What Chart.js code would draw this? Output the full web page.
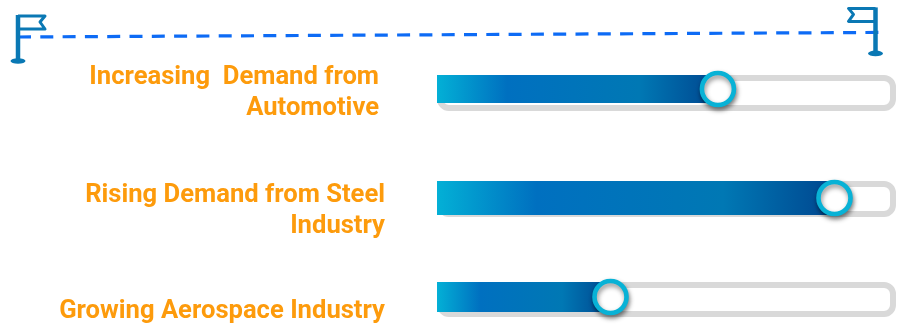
<!DOCTYPE html>
<html>
<head>
<meta charset="utf-8">
<title>Market drivers</title>
<script src="https://cdn.jsdelivr.net/npm/chart.js@4"></script>
<style>
  html, body { margin: 0; padding: 0; background: #fff; }
  #page { position: relative; width: 897px; height: 324px; overflow: hidden; }
  canvas { position: absolute; left: 0; top: 0; }
</style>
</head>
<body>
<div id="page">
  <canvas id="timeline" width="897" height="324"></canvas>
  <canvas id="row0" width="897" height="324"></canvas>
  <canvas id="row1" width="897" height="324"></canvas>
  <canvas id="row2" width="897" height="324"></canvas>
</div>
<script>
const categories = [
  ["Increasing  Demand from", "Automotive"],
  ["Rising Demand from Steel", "Industry"],
  "Growing Aerospace Industry",
];
const driverValues = [61.2, 86.6, 37.8];
const timelineLabels = ["start", "end"];
const timelineLevels = [28.7, 29.16];

// where each row sits on the page
const rowLayouts = [
  { top: 75, bottom: 103, trackDrop: 8, labelPad: 58, labelShift: 4 },
  { top: 181, bottom: 215, trackDrop: 2, labelPad: 52, labelShift: 13 },
  { top: 282, bottom: 312, trackDrop: 5, labelPad: 52, labelShift: 15 },
];

const ORANGE = "#fd9b0c";
const FLAG_BLUE = "#0a78b4";
const DASH_BLUE = "#0d6bf5";
const KNOB_CYAN = "#08b2d6";
const TRACK_GREY = "#d9d9d9";

const trackPlugin = {
  id: "track",
  beforeDatasetsDraw(chart, args, opts) {
    const { ctx, chartArea: a } = chart;
    const w = 6;
    ctx.save();
    ctx.beginPath();
    ctx.roundRect(a.left + w / 2, a.top + w / 2, a.right - a.left - w, a.bottom - a.top + opts.drop - w, 9);
    ctx.fillStyle = "#fff";
    ctx.fill();
    ctx.strokeStyle = TRACK_GREY;
    ctx.lineWidth = w;
    ctx.stroke();
    ctx.restore();
  },
};

const shadowPlugin = {
  id: "softShadow",
  beforeDatasetDraw(chart) {
    const { ctx } = chart;
    ctx.save();
    ctx.shadowColor = "rgba(0,0,0,0.45)";
    ctx.shadowBlur = 5;
    ctx.shadowOffsetX = 1;
    ctx.shadowOffsetY = 3;
  },
  afterDatasetDraw(chart) {
    chart.ctx.restore();
  },
};

const fillGradient = (context) => {
  const { chart } = context;
  if (!chart.chartArea) return "#0070c0";
  const x0 = chart.chartArea.left;
  const x1 = chart.scales.x.getPixelForValue(context.dataset.data[0]);
  const g = chart.ctx.createLinearGradient(x0, 0, x1, 0);
  g.addColorStop(0, "#03b0d6");
  g.addColorStop(0.25, "#0070c0");
  g.addColorStop(0.72, "#0078b4");
  g.addColorStop(1, "#00468f");
  return g;
};

const renderRow = (index) => {
  const layout = rowLayouts[index];
  new Chart(document.querySelector(`#row${index}`), {
    type: "bar",
    plugins: [trackPlugin, shadowPlugin],
    data: {
      labels: [categories[index]],
      datasets: [
        {
          type: "line",
          data: [driverValues[index]],
          order: 0,
          clip: false,
          showLine: false,
          pointRadius: 16,
          pointBorderWidth: 4.6,
          pointBackgroundColor: "#fff",
          pointBorderColor: KNOB_CYAN,
        },
        {
          data: [driverValues[index]],
          order: 1,
          barPercentage: 1,
          categoryPercentage: 1,
          backgroundColor: fillGradient,
        },
      ],
    },
    options: {
      indexAxis: "y",
      responsive: false,
      animation: false,
      events: [],
      layout: {
        autoPadding: false,
        padding: { top: layout.top, bottom: 324 - layout.bottom, left: 0, right: 1 },
      },
      plugins: {
        legend: { display: false },
        tooltip: { enabled: false },
        track: { drop: layout.trackDrop },
      },
      scales: {
        x: { display: false, min: 0, max: 100 },
        y: {
          grid: { display: false, drawTicks: false },
          border: { display: false },
          // the tick padding is horizontal here, keep it out of the vertical layout
          afterFit: (scale) => {
            scale.width = 437;
            scale.paddingTop = 0;
            scale.paddingBottom = 0;
          },
          ticks: {
            color: ORANGE,
            padding: layout.labelPad,
            labelOffset: layout.labelShift,
            font: { family: "Roboto", weight: "bold", size: 25.6, lineHeight: 1.21 },
          },
        },
      },
    },
  });
};

// flag with its pole planted on the dashed line's end point
const drawFlag = (ctx, x, y, dir, top, foot) => {
  ctx.save();
  ctx.strokeStyle = FLAG_BLUE;
  ctx.fillStyle = FLAG_BLUE;
  ctx.lineJoin = "round";
  ctx.lineWidth = 4.5;
  ctx.beginPath();
  ctx.moveTo(x, y + top);
  ctx.lineTo(x, y + foot);
  ctx.stroke();
  ctx.beginPath();
  ctx.ellipse(x, y + foot, 7.5, 2.8, 0, 0, Math.PI * 2);
  ctx.fill();
  ctx.lineWidth = 3;
  ctx.beginPath();
  ctx.moveTo(x, y + top + 1);
  ctx.lineTo(x + dir * 27, y + top + 1);
  ctx.lineTo(x + dir * 22, y + top + 7);
  ctx.lineTo(x + dir * 27, y + top + 14);
  ctx.lineTo(x, y + top + 14);
  ctx.stroke();
  ctx.restore();
};

const flagPlugin = {
  id: "flags",
  afterDatasetsDraw(chart) {
    const points = chart.getDatasetMeta(0).data;
    drawFlag(chart.ctx, points[0].x, points[0].y, 1, -22, 24);
    drawFlag(chart.ctx, points[1].x - 6.5, points[1].y, -1, -25, 21);
  },
};

const renderTimeline = () => {
  new Chart(document.querySelector("#timeline"), {
    type: "line",
    plugins: [flagPlugin],
    data: {
      labels: timelineLabels,
      datasets: [
        {
          data: timelineLevels,
          borderColor: DASH_BLUE,
          borderWidth: 3.2,
          borderDash: [13, 9.3],
          pointRadius: 0,
          tension: 0,
        },
      ],
    },
    options: {
      responsive: false,
      animation: false,
      events: [],
      layout: { autoPadding: false, padding: { left: 18, right: 15 } },
      plugins: { legend: { display: false }, tooltip: { enabled: false } },
      scales: {
        x: { display: false, offset: false },
        y: { display: false, min: 0, max: 32.4 },
      },
    },
  });
};

window.addEventListener("DOMContentLoaded", () => {
  renderTimeline();
  categories.forEach((_, i) => renderRow(i));
});
</script>
</body>
</html>
